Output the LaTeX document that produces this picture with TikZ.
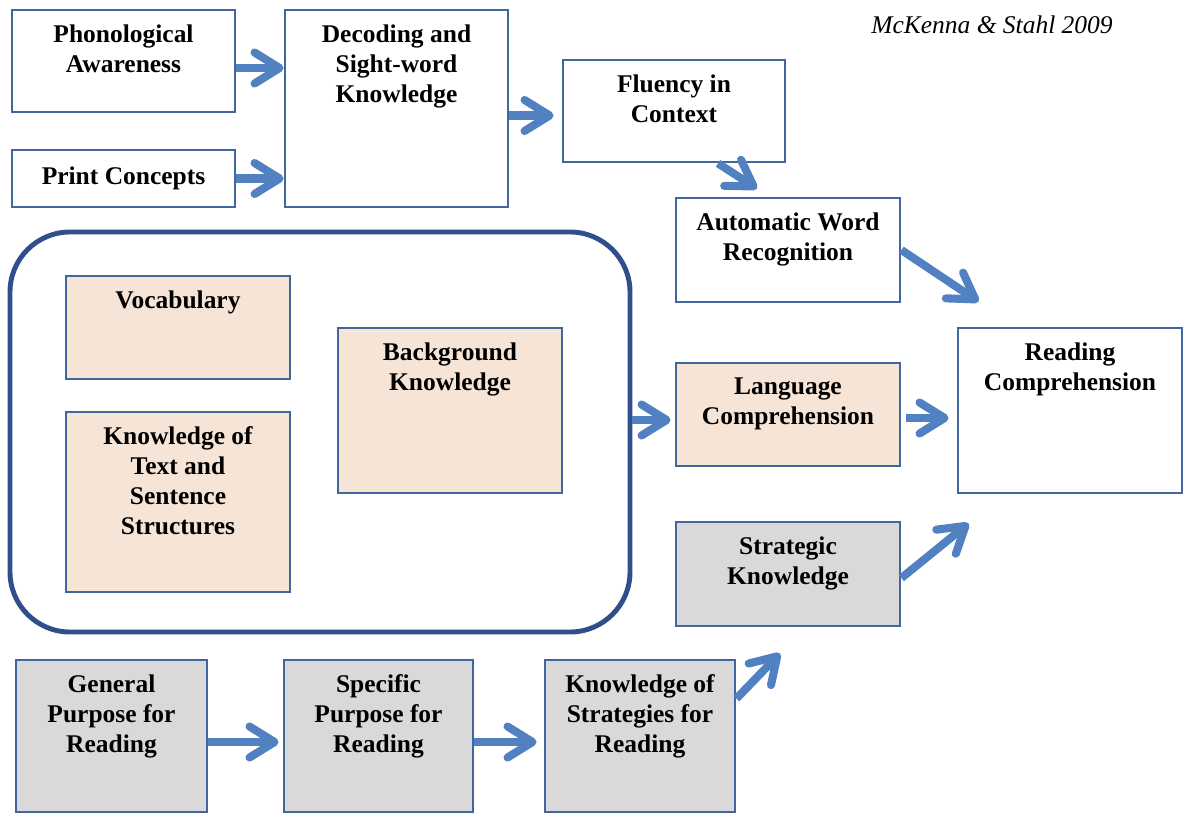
\documentclass[tikz,border=0pt]{standalone}
\usepackage{fontspec}
\setmainfont{Liberation Serif}
\usetikzlibrary{positioning,fit,arrows.meta}
\definecolor{edgeblue}{HTML}{41679F}
\definecolor{groupblue}{HTML}{2F4E8C}
\definecolor{arrowblue}{HTML}{5181C0}
\definecolor{peach}{HTML}{F6E4D6}
\definecolor{lightgrey}{HTML}{D9D9D9}

\begin{document}
\begin{tikzpicture}[x=0.02cm, y=-0.02cm,
    box/.style={draw=edgeblue, line width=1.6pt, inner sep=0pt},
    peachbox/.style={box, fill=peach},
    greybox/.style={box, fill=lightgrey},
    group/.style={draw=groupblue, line width=2.8pt, rounded corners=1.2cm, inner sep=0pt},
    txt/.style={align=center, inner sep=0pt, font=\bfseries\fontsize{14.5}{17}\selectfont},
    flow/.style={draw=arrowblue, line width=4.6pt, -{Straight Barb[round, length=0.5cm, width=0.62cm]}}]

  \useasboundingbox (0,0) rectangle (1189,814);

  % word recognition strand
  \node[box, fit={(12,10) (235,112)}]   (phon)  {};
  \node[box, fit={(12,150) (235,207)}]  (print) {};
  \node[box, fit={(285,10) (508,207)}]  (dec)   {};
  \node[box, fit={(563,60) (785,162)}]  (flu)   {};
  \node[box, fit={(676,198) (900,302)}] (auto)  {};

  % language comprehension strand
  \node[group, fit={(10,232) (630,632)}]      (grp)  {};
  \node[peachbox, fit={(66,276) (290,379)}]   (voc)  {};
  \node[peachbox, fit={(66,412) (290,592)}]   (struc) {};
  \node[peachbox, fit={(338,328) (562,493)}]  (back) {};
  \node[peachbox, fit={(676,363) (900,466)}]  (lang) {};
  \node[box, fit={(958,328) (1182,493)}]      (read) {};

  % strategic strand
  \node[greybox, fit={(676,522) (900,626)}]   (strat)  {};
  \node[greybox, fit={(16,660) (207,812)}]    (gen)    {};
  \node[greybox, fit={(284,660) (473,812)}]   (spec)   {};
  \node[greybox, fit={(545,660) (735,812)}]   (kstrat) {};

  \node[txt, below=0.32cm of phon.north]   (phon-t)   {Phonological\\Awareness};
  \node[txt, below=0.35cm of print.north]  (print-t)  {Print Concepts};
  \node[txt, below=0.32cm of dec.north]    (dec-t)    {Decoding and\\Sight-word\\Knowledge};
  \node[txt, below=0.32cm of flu.north]    (flu-t)    {Fluency in\\Context};
  \node[txt, below=0.32cm of auto.north]   (auto-t)   {Automatic Word\\Recognition};
  \node[txt, below=0.32cm of voc.north]    (voc-t)    {Vocabulary};
  \node[txt, below=0.32cm of struc.north]  (struc-t)  {Knowledge of\\Text and\\Sentence\\Structures};
  \node[txt, below=0.32cm of back.north]   (back-t)   {Background\\Knowledge};
  \node[txt, below=0.32cm of lang.north]   (lang-t)   {Language\\Comprehension};
  \node[txt, below=0.32cm of read.north]   (read-t)   {Reading\\Comprehension};
  \node[txt, below=0.32cm of strat.north]  (strat-t)  {Strategic\\Knowledge};
  \node[txt, below=0.32cm of gen.north]    (gen-t)    {General\\Purpose for\\Reading};
  \node[txt, below=0.32cm of spec.north]   (spec-t)   {Specific\\Purpose for\\Reading};
  \node[txt, below=0.32cm of kstrat.north] (kstrat-t) {Knowledge of\\Strategies for\\Reading};

  \node[anchor=base east, inner sep=0pt, font=\itshape\fontsize{14.5}{17}\selectfont]
    (cite) at (1113,34) {McKenna \& Stahl 2009};

  \draw[flow] ([yshift=-0.14cm]phon.east) -- ([yshift=-0.14cm]phon.east -| dec.west);
  \draw[flow] (print.east) -- (print.east -| dec.west);
  \draw[flow, shorten >=0.16cm] ([yshift=-0.14cm]dec.east) -- ([yshift=-0.14cm]dec.east -| flu.west);
  \draw[flow] ([xshift=0.88cm]flu.south) -- ([xshift=-0.62cm, yshift=0.16cm]auto.north);
  \draw[flow] (auto.east) -- ([xshift=0.44cm, yshift=0.5cm]read.north west);
  \draw[flow, shorten >=0.08cm] ([yshift=-0.11cm]grp.east |- lang.west) -- ([yshift=-0.11cm]lang.west);
  \draw[flow, shorten <=0.1cm, shorten >=0.16cm] ([yshift=-0.07cm]lang.east) -- ([yshift=-0.07cm]lang.east -| read.west);
  \draw[flow] ([yshift=-0.08cm]strat.east) -- ([xshift=0.24cm, yshift=-0.58cm]read.south west);
  \draw[flow, shorten >=0.08cm] ([yshift=-0.12cm]gen.east) -- ([yshift=-0.12cm]gen.east -| spec.west);
  \draw[flow, shorten >=0.14cm] ([yshift=-0.12cm]spec.east) -- ([yshift=-0.12cm]spec.east -| kstrat.west);
  \draw[flow] ([yshift=-0.8cm]kstrat.north east) -- ([xshift=-0.16cm, yshift=-0.52cm]strat.south);

\end{tikzpicture}
\end{document}
